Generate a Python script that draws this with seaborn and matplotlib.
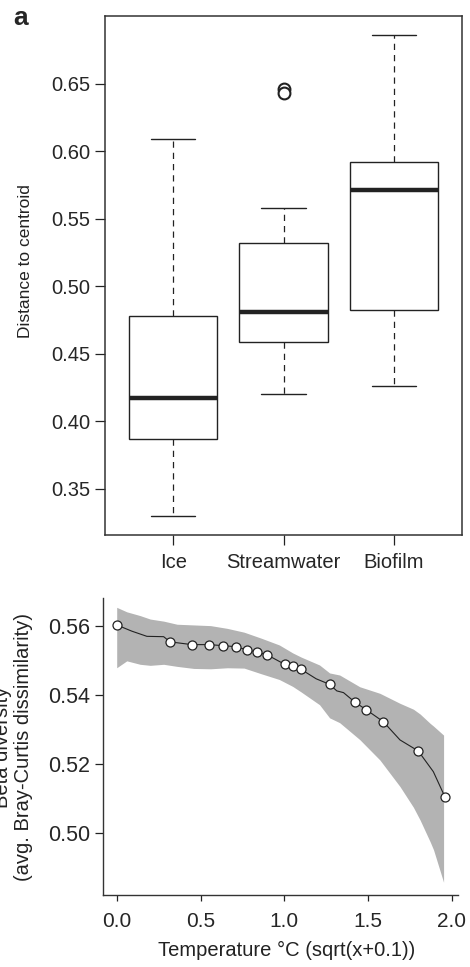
import numpy as np
import pandas as pd
import matplotlib
matplotlib.use("Agg")
import matplotlib.pyplot as plt
import seaborn as sns

sns.set_style("ticks")
plt.rcParams['font.family'] = ['Liberation Sans', 'DejaVu Sans']

# panel a : box summaries
groups = ["Ice", "Streamwater", "Biofilm"]
whisk_lo = [0.330, 0.420, 0.426]
q1 = [0.387, 0.4585, 0.482]
med = [0.417, 0.481, 0.571]
q3 = [0.478, 0.532, 0.592]
whisk_hi = [0.609, 0.558, 0.686]
out_grp = ["Streamwater", "Streamwater"]
out_val = [0.6462, 0.6428]

# panel b : beta diversity vs temperature
temp = [0.0, 0.318, 0.448, 0.549, 0.636, 0.710, 0.776, 0.839, 0.899, 1.002,
        1.054, 1.101, 1.270, 1.422, 1.490, 1.590, 1.799, 1.959]
beta = [0.5603, 0.5554, 0.5546, 0.5546, 0.5543, 0.5540, 0.5531, 0.5524, 0.5516, 0.5489,
        0.5483, 0.5474, 0.5431, 0.5379, 0.5357, 0.5323, 0.5238, 0.5104]

fit_x = [0.0, 0.09, 0.18, 0.28, 0.318, 0.448, 0.549, 0.636, 0.710, 0.776, 0.839, 0.899,
         1.002, 1.054, 1.101, 1.19, 1.270, 1.313, 1.353, 1.422, 1.490, 1.590, 1.69,
         1.799, 1.889, 1.959]
fit_y = [0.5603, 0.5585, 0.5570, 0.5569, 0.5554, 0.5546, 0.5546, 0.5543, 0.5540, 0.5531,
         0.5524, 0.5516, 0.5489, 0.5483, 0.5474, 0.5447, 0.5431, 0.5412, 0.5407, 0.5379,
         0.5357, 0.5323, 0.5270, 0.5238, 0.5178, 0.5104]

band_x = [0.0, 0.06, 0.14, 0.2, 0.28, 0.36, 0.46, 0.56, 0.66, 0.76, 0.86, 0.97, 1.05,
          1.1, 1.21, 1.27, 1.33, 1.45, 1.57, 1.69, 1.77, 1.81, 1.87, 1.89, 1.95]
band_hi = [0.5654, 0.5641, 0.5630, 0.5620, 0.5614, 0.5605, 0.5603, 0.5601, 0.5593, 0.5582,
           0.5565, 0.5545, 0.5522, 0.5510, 0.5487, 0.5464, 0.5458, 0.5424, 0.5405, 0.5376,
           0.5359, 0.5345, 0.5318, 0.5310, 0.5284]
band_lo = [0.5479, 0.5499, 0.5489, 0.5486, 0.5489, 0.5483, 0.5477, 0.5476, 0.5479, 0.5478,
           0.5462, 0.5445, 0.5425, 0.5409, 0.5372, 0.5334, 0.5320, 0.5271, 0.5212, 0.5135,
           0.5075, 0.5038, 0.4975, 0.4952, 0.4858]

# long table: five numbers per group -> exact quartiles
rows = []
for i, g in enumerate(groups):
    for v in [whisk_lo[i], q1[i], med[i], q3[i], whisk_hi[i]]:
        rows.append({"group": g, "value": v})
box_df = pd.DataFrame(rows)

fig = plt.figure(figsize=(4.7, 9.67), dpi=100)
ax1 = fig.add_axes([105/470, 1-535/967, 357/470, 519/967])
ax2 = fig.add_axes([103.3/470, 1-895/967, 354.7/470, 297/967])

ink = "#222222"

# ---- panel a
sns.boxplot(data=box_df, x="group", y="value", order=groups, whis=(0, 100),
            width=0.8, color="white", linecolor=ink, linewidth=1.0, fliersize=0,
            medianprops=dict(linewidth=3.2, color=ink),
            whiskerprops=dict(linestyle=(0, (5, 4)), linewidth=0.9),
            ax=ax1)
sns.stripplot(x=out_grp, y=out_val, order=groups, jitter=False, size=8.5,
              color="white", linewidth=1.5, edgecolor=ink, ax=ax1)
ax1.collections[-1].set_facecolor("none")

ax1.set_xlim(-0.62, 2.62)
ax1.set_ylim(0.3158, 0.7)
ax1.set_yticks([0.35, 0.40, 0.45, 0.50, 0.55, 0.60, 0.65])
ax1.set_yticklabels(["0.35", "0.40", "0.45", "0.50", "0.55", "0.60", "0.65"])
ax1.tick_params(axis="y", labelsize=14.5, length=7, width=0.9, pad=3.5, color=ink)
ax1.tick_params(axis="x", labelsize=14.5, length=7, width=0.9, pad=6, color=ink)
ax1.set_xlabel("")
ax1.set_ylabel("Distance to centroid", fontsize=12.5, color="#222222")
ax1.yaxis.set_label_coords((33-105)/357, 0.527)
for s in ax1.spines.values():
    s.set_linewidth(1.1)
    s.set_color("#333333")

fig.text(13/470, 1-25/967, "a", fontsize=19, fontweight="bold", va="baseline")

# ---- panel b
ax2.fill_between(band_x, band_lo, band_hi, color="#b3b3b3", linewidth=0)
sns.lineplot(x=fit_x, y=fit_y, color=ink, linewidth=0.8, ax=ax2)
sns.scatterplot(x=temp, y=beta, s=42, color="white", edgecolor=ink,
                linewidth=0.9, zorder=3, ax=ax2)

ax2.set_xlim(-0.08, 2.036)
ax2.set_ylim(0.4821, 0.5681)
ax2.set_xticks([0.0, 0.5, 1.0, 1.5, 2.0])
ax2.set_xticklabels(["0.0", "0.5", "1.0", "1.5", "2.0"])
ax2.set_yticks([0.50, 0.52, 0.54, 0.56])
ax2.set_yticklabels(["0.50", "0.52", "0.54", "0.56"])
ax2.tick_params(axis="y", labelsize=15.5, length=6, width=0.9, pad=3.5, color=ink)
ax2.tick_params(axis="x", labelsize=15, length=4.5, width=0.9, pad=8, color=ink)
sns.despine(ax=ax2)
for s in ["left", "bottom"]:
    ax2.spines[s].set_linewidth(1.0)
    ax2.spines[s].set_color("#333333")
ax2.set_xlabel("Temperature °C (sqrt(x+0.1))", fontsize=14.5, color="#222222")
ax2.xaxis.set_label_coords(0.518, -0.155)
# first line sits partly off the left edge, as in the reference
ax2.set_ylabel("Beta diversity\n(avg. Bray-Curtis dissimilarity)", fontsize=14.5,
               color="#222222", linespacing=1.15)
ax2.yaxis.set_label_coords((33-103.3)/354.7, 0.497)

fig.savefig("out.png", dpi=100)
